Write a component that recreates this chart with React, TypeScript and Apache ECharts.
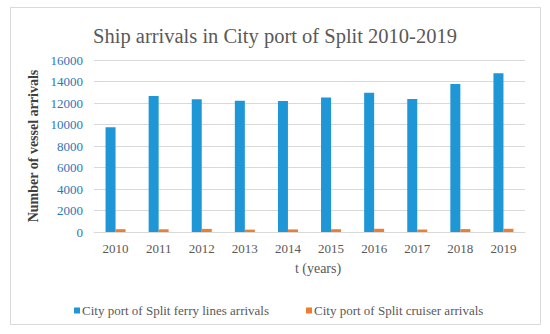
import React, { useEffect, useRef } from "react";
import * as echarts from "echarts";

const years = ["2010", "2011", "2012", "2013", "2014", "2015", "2016", "2017", "2018", "2019"];
const ferryArrivals = [9750, 12650, 12340, 12210, 12180, 12520, 12950, 12370, 13760, 14760];
const cruiserArrivals = [260, 250, 290, 220, 240, 260, 300, 230, 270, 300];
const seriesNames = ["City port of Split ferry lines arrivals", "City port of Split cruiser arrivals"];
const titleText = "Ship arrivals in City port of Split 2010-2019";
const yAxisName = "Number of vessel arrivals";
const xAxisName = "t (years)";

const FONT = "Liberation Serif";

export default function App() {
  const ref = useRef<HTMLDivElement>(null);
  useEffect(() => {
    if (!ref.current) return;
    const chart = echarts.init(ref.current, undefined, { renderer: "svg" });
    chart.setOption({
      animation: false,
      backgroundColor: "#ffffff",
      textStyle: { fontFamily: FONT },
      title: {
        text: titleText,
        left: "center",
        top: 20,
        textStyle: { fontFamily: FONT, fontSize: 20.5, fontWeight: "normal", color: "#595959" },
      },
      legend: {
        left: 69,
        top: 299,
        icon: "rect",
        itemWidth: 6,
        itemHeight: 6,
        itemGap: 37,
        textStyle: { fontFamily: FONT, fontSize: 13, color: "#595959", padding: [0, 0, 0, -3] },
        data: seriesNames,
      },
      grid: { left: 94, right: 25, top: 60, bottom: 102 },
      xAxis: {
        type: "category",
        data: years,
        axisLine: { lineStyle: { color: "#d9d9d9" } },
        axisTick: { show: false },
        axisLabel: { fontFamily: FONT, fontSize: 13, color: "#595959", margin: 10 },
      },
      yAxis: {
        type: "value",
        min: 0,
        max: 16000,
        interval: 2000,
        axisLine: { show: false },
        axisTick: { show: false },
        splitLine: { lineStyle: { color: "#d9d9d9" } },
        axisLabel: {
          fontFamily: FONT,
          fontSize: 13,
          color: "#2f74b5",
          margin: 11,
          formatter: (v: number) => String(v),
        },
      },
      graphic: [
        {
          type: "rect",
          shape: { x: 10.5, y: 7.5, width: 530, height: 317 },
          style: { fill: "none", stroke: "#d9d9d9", lineWidth: 1 },
          silent: true,
        },
        {
          type: "text",
          x: 33,
          y: 146,
          rotation: Math.PI / 2,
          style: {
            text: yAxisName,
            fontFamily: FONT,
            fontSize: 14,
            fontWeight: "bold",
            fill: "#404040",
            align: "center",
            verticalAlign: "middle",
          },
        },
        {
          type: "text",
          x: 318,
          y: 268,
          style: {
            text: xAxisName,
            fontFamily: FONT,
            fontSize: 14,
            fill: "#595959",
            align: "center",
            verticalAlign: "middle",
          },
        },
      ],
      series: [
        {
          name: seriesNames[0],
          type: "bar",
          data: ferryArrivals,
          barWidth: 10,
          barGap: "0%",
          itemStyle: { color: "#1f96d6" },
        },
        {
          name: seriesNames[1],
          type: "bar",
          data: cruiserArrivals,
          barWidth: 10,
          itemStyle: { color: "#ed7d31" },
        },
      ],
    });
    return () => chart.dispose();
  }, []);
  return (
    <div
      ref={ref}
      style={{ position: "fixed", left: 0, top: 0, width: 550, height: 334 }}
    />
  );
}
